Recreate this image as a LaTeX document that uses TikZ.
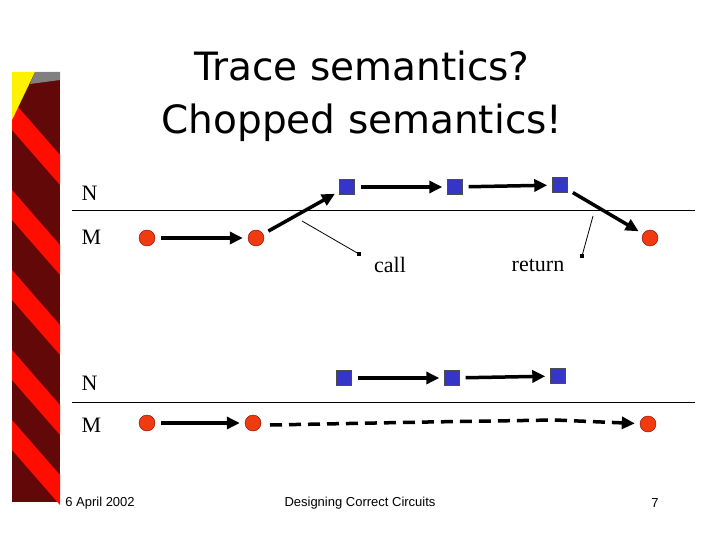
\documentclass[tikz,border=0pt]{standalone}
\usepackage{fontspec}
\setmainfont{Liberation Serif}
\newfontfamily\titlefont{DejaVu Sans}
\newfontfamily\footfont{Liberation Sans}
\usetikzlibrary{arrows.meta}
\definecolor{dotred}{HTML}{F03A10}
\definecolor{sqblue}{HTML}{3535C8}
\definecolor{dkred}{HTML}{7A0A0A}
\begin{document}
\begin{tikzpicture}[x=1pt,y=-1pt,
  dot/.style={circle,draw=dkred,fill=dotred,minimum size=16,inner sep=0},
  sq/.style={rectangle,draw=black!70,fill=sqblue,minimum size=15,inner sep=0},
  arr/.style={line width=3.5pt,shorten <=6pt,shorten >=5pt,-{Triangle[length=13pt,width=12pt]}},
  darr/.style={line width=3.5pt,dash pattern=on 12pt off 7pt},
  lab/.style={font=\fontsize{22}{24}\selectfont,anchor=west},
  ptr/.style={line width=0.8pt},
  foot/.style={font=\footfont\fontsize{13}{15}\selectfont}]
\useasboundingbox (0,0) rectangle (720,540);
% left decorative bar
\fill[dkred!80!black] (12,72) rectangle (60,502);
\foreach \y in {100,190,270,350,420}{\fill[red!90!orange] (12,\y) -- (60,\y+55) -- (60,\y+85) -- (12,\y+30) -- cycle;}
\fill[yellow] (12,72) -- (35,72) -- (12,120) -- cycle;
\fill[gray] (35,72) -- (60,72) -- (60,80) -- (30,84) -- cycle;
\node[font=\titlefont\fontsize{39}{53}\selectfont,align=center] (t) at (362,96) {Trace semantics?\\Chopped semantics!};
% top
\draw (72,210) -- (695,210);
\node[lab] (n1) at (78,193) {N};
\node[lab] (m1) at (78,237) {M};
\node[dot] (a1) at (147,238) {}; \node[dot] (a2) at (256,238) {}; \node[dot] (a3) at (650,238) {};
\node[sq] (b1) at (347,187) {}; \node[sq] (b2) at (455,187) {}; \node[sq] (b3) at (560,185) {};
\draw[arr] (a1) -- (a2);
\draw[arr] (a2) -- (b1);
\draw[arr] (b1) -- (b2);
\draw[arr] (b2) -- (b3);
\draw[arr] (b3) -- (a3);
\coordinate (c0) at (302,221); \node[fill,inner sep=1.8pt] (c1) at (359,254) {};
\draw[ptr] (c0) -- (c1);
\node[font=\fontsize{22}{24}\selectfont] (call) at (390,265) {call};
\coordinate (r0) at (593,216); \node[fill,inner sep=1.8pt] (r1) at (582,256) {};
\draw[ptr] (r0) -- (r1);
\node[font=\fontsize{22}{24}\selectfont] (ret) at (538,265) {return};
% bottom
\draw (72,402) -- (695,402);
\node[lab] (n2) at (78,383) {N};
\node[lab] (m2) at (78,425) {M};
\node[dot] (d1) at (147,423) {}; \node[dot] (d2) at (253,423) {}; \node[dot] (d3) at (648,424) {};
\node[sq] (e1) at (344,378) {}; \node[sq] (e2) at (452,378) {}; \node[sq] (e3) at (558,376) {};
\draw[arr] (d1) -- (d2);
\draw[arr] (e1) -- (e2);
\draw[arr] (e2) -- (e3);
\coordinate (k1) at (270,425); \coordinate (k2) at (428,422); \coordinate (k3) at (555,420);
\draw[darr] (k1) -- (k2) -- (k3);
\draw[darr,shorten >=5pt,-{Triangle[length=13pt,width=12pt]}] (k3) -- (d3);
% footer
\node[foot] (f1) at (100,503) {6 April 2002};
\node[foot] (f2) at (360,503) {Designing Correct Circuits};
\node[foot] (f3) at (655,503) {7};
\end{tikzpicture}
\end{document}
